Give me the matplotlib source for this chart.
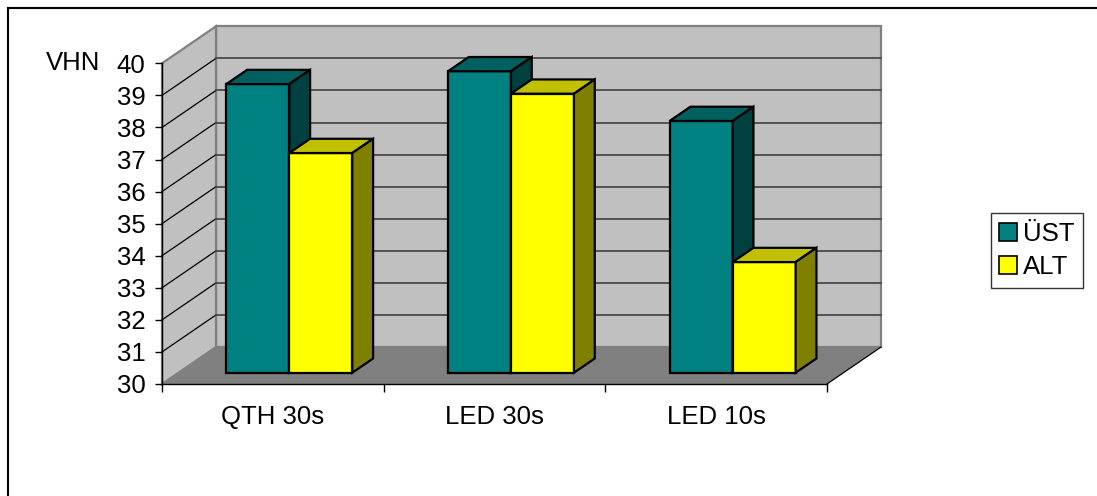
import matplotlib
matplotlib.use("Agg")
import matplotlib.pyplot as plt
from matplotlib.patches import Polygon, Patch
from matplotlib.lines import Line2D

# ---- data ----
categories = ["QTH 30s", "LED 30s", "LED 10s"]
series_names = ["ÜST", "ALT"]
ust_values = [39.0, 39.4, 37.85]
alt_values = [36.85, 38.7, 33.45]
y_ticks = [30, 31, 32, 33, 34, 35, 36, 37, 38, 39, 40]
y_label = "VHN"

front_colors = ["#008080", "#FFFF00"]
top_colors = ["#006060", "#C0C000"]
side_colors = ["#004040", "#808000"]

plt.rcParams['font.family'] = ['Liberation Sans', 'DejaVu Sans']
FS = 18.5

W, H = 1097, 496
fig = plt.figure(figsize=(W / 100, H / 100), dpi=100)

# axes box = front plane of the 3D plot
x0_px, x1_px = 162, 827
y30_px, y40_px = 384, 63.3
ax = fig.add_axes([x0_px / W, (H - y30_px) / H, (x1_px - x0_px) / W, (y30_px - y40_px) / H])
ax.set_xlim(0, 3)
ax.set_ylim(30, 40)
ax.patch.set_visible(False)

px_x = (x1_px - x0_px) / 3.0
px_y = (y30_px - y40_px) / 10.0
DX = 54 / px_x      # wall depth in data x
DY = 37 / px_y      # wall depth in data y
BAR_D0, BAR_D1 = 0.305, 0.69
BAR_W = 63 / px_x

ymin, ymax = 30, 40
ncat = len(categories)

# back wall
ax.add_patch(Polygon([(DX, ymin + DY), (ncat + DX, ymin + DY), (ncat + DX, ymax + DY), (DX, ymax + DY)],
                     closed=True, facecolor="#C0C0C0", edgecolor="#808080", lw=1.6, clip_on=False, zorder=1))
# side wall
ax.add_patch(Polygon([(0, ymin), (DX, ymin + DY), (DX, ymax + DY), (0, ymax)],
                     closed=True, facecolor="#C0C0C0", edgecolor="#808080", lw=1.6, clip_on=False, zorder=1))
# floor
ax.add_patch(Polygon([(0, ymin), (ncat, ymin), (ncat + DX, ymin + DY), (DX, ymin + DY)],
                     closed=True, facecolor="#808080", edgecolor="none", clip_on=False, zorder=1.5))
ax.add_line(Line2D([ncat, ncat + DX], [ymin, ymin + DY], color="black", lw=0.9, clip_on=False, zorder=1.6))

# gridlines
for v in y_ticks[1:-1]:
    ax.add_line(Line2D([0, DX], [v, v + DY], color="black", lw=0.9, clip_on=False, zorder=1.2))
    ax.add_line(Line2D([DX, ncat + DX], [v + DY, v + DY], color="#4a4a4a", lw=1.3, clip_on=False, zorder=1.2))

# bars
d0x, d0y = BAR_D0 * DX, BAR_D0 * DY
bdx, bdy = (BAR_D1 - BAR_D0) * DX, (BAR_D1 - BAR_D0) * DY
all_series = [ust_values, alt_values]
for i in range(ncat):
    for s, vals in enumerate(all_series):
        v = vals[i]
        left = i + 0.5 - BAR_W + s * BAR_W + d0x
        bottom = ymin + d0y
        z = 3 + i * 2 + s * 0.5
        ax.bar(left, v - ymin, width=BAR_W, bottom=bottom, align='edge',
               color=front_colors[s], edgecolor="black", lw=1.6, clip_on=False, zorder=z)
        right = left + BAR_W
        top = v + d0y
        ax.add_patch(Polygon([(left, top), (right, top), (right + bdx, top + bdy), (left + bdx, top + bdy)],
                             closed=True, facecolor=top_colors[s], edgecolor="black", lw=1.6,
                             joinstyle='miter', clip_on=False, zorder=z))
        ax.add_patch(Polygon([(right, bottom), (right, top), (right + bdx, top + bdy), (right + bdx, bottom + bdy)],
                             closed=True, facecolor=side_colors[s], edgecolor="black", lw=1.6,
                             joinstyle='miter', clip_on=False, zorder=z))

# axes / ticks
for sp in ["top", "right"]:
    ax.spines[sp].set_visible(False)
for sp in ["left", "bottom"]:
    ax.spines[sp].set_color("black")
    ax.spines[sp].set_linewidth(1.0)
    ax.spines[sp].set_zorder(20)

ax.set_yticks(y_ticks)
ax.set_yticklabels([str(t) for t in y_ticks], fontsize=FS)
ax.tick_params(axis='y', direction='out', length=5, width=1, pad=7, colors='black')

ax.set_xticks(list(range(ncat + 1)))
ax.set_xticklabels([""] * (ncat + 1))
ax.tick_params(axis='x', which='major', direction='out', length=5.5, width=1)
ax.set_xticks([i + 0.5 for i in range(ncat)], minor=True)
ax.set_xticklabels(categories, minor=True, fontsize=FS)
ax.tick_params(axis='x', which='minor', length=0, pad=15)

fig.text(100 / W, 1 - 63 / H, y_label, fontsize=FS, ha='right', va='center')

# legend
handles = [Patch(facecolor=front_colors[k], edgecolor="black", lw=1.2) for k in range(2)]
leg = fig.legend(handles, series_names, loc='upper left', bbox_to_anchor=(990.5 / W, 1 - 213 / H),
                 fontsize=FS, frameon=True, fancybox=False, handlelength=0.7, handleheight=0.7,
                 handletextpad=0.2, borderpad=0.35, labelspacing=0.35, borderaxespad=0)
leg.get_frame().set_edgecolor("black")
leg.get_frame().set_linewidth(1.0)

# outer chart border
fig.add_artist(Line2D([8 / W, 1], [1 - 8 / H, 1 - 8 / H], color="black", lw=1.5, transform=fig.transFigure))
fig.add_artist(Line2D([8 / W, 8 / W], [0, 1 - 8 / H], color="black", lw=1.5, transform=fig.transFigure))

fig.savefig("out.png", dpi=100, facecolor="white")
